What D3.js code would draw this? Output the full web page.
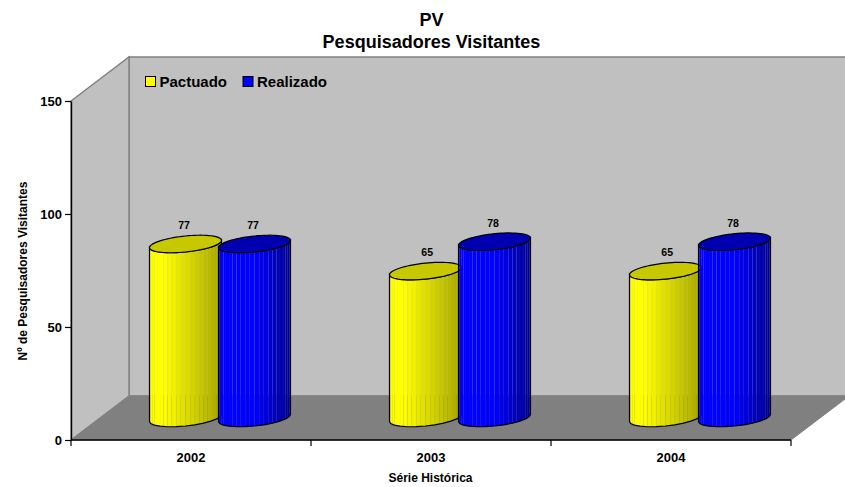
<!DOCTYPE html>
<html>
<head>
<meta charset="utf-8">
<title>PV</title>
<script src="https://cdnjs.cloudflare.com/ajax/libs/d3/7.8.5/d3.min.js"></script>
<style>
    html, body { margin: 0; padding: 0; background: #fff; }
    svg { display: block; }
    text { font-family: "Liberation Sans", Arial, sans-serif; font-weight: bold; fill: #000; }
    .axis path { stroke: #000; stroke-width: 1.4; }
    .axis line { stroke: #000; stroke-width: 1.2; }
    .axis text { font-size: 13px; font-family: "Liberation Sans", Arial, sans-serif; }
</style>
</head>
<body>
<div id="chart"></div>
<script>
var years = ['2002', '2003', '2004'];
var seriesNames = ['Pactuado', 'Realizado'];
var pactuado = [77, 65, 65];
var realizado = [77, 78, 78];
var yTicks = [0, 50, 100, 150];
var titleLines = ['PV', 'Pesquisadores Visitantes'];

(function () {
    'use strict';

    var WIDTH = 845;
    var HEIGHT = 487;
    var LEFT = 71;
    var RIGHT = 791;
    var TOP = 101;
    var BOTTOM = 440;
    var DEPTH_X = 58;
    var DEPTH_Y = 44;
    var RADIUS = 36;
    var RADIUS_Y = 8;
    var SHEAR = 0.1;
    var STRIPS = 24;

    var colors = {
        Pactuado: { bright: '#ffff00', dark: '#a6a600', top: '#c8c800', knee: 0.2 },
        Realizado: { bright: '#0000ff', dark: '#000090', top: '#0000b0', knee: 0.5 }
    };

    var svg = d3.select('#chart').append('svg')
        .attr('width', WIDTH)
        .attr('height', HEIGHT);

    var y = d3.scaleLinear().domain([0, 150]).range([BOTTOM, TOP]);
    var x = d3.scaleBand().domain(years).range([LEFT, RIGHT]);
    var inner = d3.scalePoint().domain(seriesNames)
        .range([DEPTH_X / 2 + x.bandwidth() / 2 - 34.5, DEPTH_X / 2 + x.bandwidth() / 2 + 34.5]);
    var line = d3.line();

    drawWalls();
    drawAxes();
    drawCylinders();
    drawLegend();
    drawTitles();

    function drawWalls() {
        var wall = svg.append('g');
        // back wall runs off the right side of the page like the original
        wall.append('polygon')
            .attr('points', [[LEFT + DEPTH_X, TOP - DEPTH_Y], [RIGHT + DEPTH_X, TOP - DEPTH_Y], [RIGHT + DEPTH_X, BOTTOM - DEPTH_Y], [LEFT + DEPTH_X, BOTTOM - DEPTH_Y]].join(' '))
            .attr('fill', '#c0c0c0')
            .attr('stroke', '#808080')
            .attr('stroke-width', 1.4);
        wall.append('polygon')
            .attr('points', [[LEFT, TOP], [LEFT + DEPTH_X, TOP - DEPTH_Y], [LEFT + DEPTH_X, BOTTOM - DEPTH_Y], [LEFT, BOTTOM]].join(' '))
            .attr('fill', '#c0c0c0')
            .attr('stroke', '#808080')
            .attr('stroke-width', 1.4);
        wall.append('polygon')
            .attr('points', [[LEFT, BOTTOM], [RIGHT, BOTTOM], [RIGHT + DEPTH_X, BOTTOM - DEPTH_Y], [LEFT + DEPTH_X, BOTTOM - DEPTH_Y]].join(' '))
            .attr('fill', '#808080')
            .attr('stroke', '#808080')
            .attr('stroke-width', 1);
    }

    function drawAxes() {
        var yAxis = d3.axisLeft(y).tickValues(yTicks).tickSize(6).tickSizeOuter(0);
        svg.append('g')
            .attr('class', 'axis')
            .attr('transform', 'translate(' + LEFT + ',0)')
            .call(yAxis);

        var xAxis = d3.axisBottom(x).tickSize(0).tickPadding(12.5);
        var gx = svg.append('g')
            .attr('class', 'axis')
            .attr('transform', 'translate(0,' + BOTTOM + ')')
            .call(xAxis);
        gx.select('.domain').attr('d', 'M' + LEFT + ',0H' + RIGHT);

        // ticks sit on the band edges, not on the band centres
        gx.selectAll('line.edge')
            .data(years.concat('end'))
            .enter()
            .append('line')
            .attr('class', 'edge')
            .attr('x1', function (d, i) { return LEFT + i * x.step(); })
            .attr('x2', function (d, i) { return LEFT + i * x.step(); })
            .attr('y1', 0)
            .attr('y2', 6);

        svg.append('text')
            .text('Série Histórica')
            .attr('x', 430.5)
            .attr('y', 481.5)
            .attr('text-anchor', 'middle')
            .style('font-size', '12px');

        svg.append('text')
            .text('Nº de Pesquisadores Visitantes')
            .attr('transform', 'translate(27,271) rotate(-90)')
            .attr('text-anchor', 'middle')
            .style('font-size', '12px');
    }

    function ellipsePoint(cx, cy, t) {
        return [
            cx + RADIUS * Math.cos(t),
            cy + RADIUS_Y * Math.sin(t) - RADIUS * SHEAR * Math.cos(t)
        ];
    }

    function ellipse(cx, cy) {
        return d3.range(0, 73).map(function (i) {
            return ellipsePoint(cx, cy, i * Math.PI / 36);
        });
    }

    function frontArc(cx, cy, from, to) {
        return d3.range(0, 13).map(function (i) {
            return ellipsePoint(cx, cy, from + (to - from) * i / 12);
        });
    }

    function stripColor(style, u) {
        if (u < style.knee) {
            return style.bright;
        }
        return d3.interpolateRgb(style.bright, style.dark)((u - style.knee) / (1 - style.knee));
    }

    function drawCylinder(group, name, year, value) {
        var style = colors[name];
        var cx = x(year) + inner(name);
        var baseY = y(0) - DEPTH_Y / 2;
        var topY = y(value) - DEPTH_Y / 2;
        var g = group.append('g').attr('class', 'cylinder');

        // strips are left unjoined, the seams let the wall and floor show through
        d3.range(STRIPS).forEach(function (i) {
            var a = Math.PI - i * Math.PI / STRIPS;
            var b = Math.PI - (i + 1) * Math.PI / STRIPS;
            var lower = frontArc(cx, baseY, a, b);
            var upper = frontArc(cx, topY, b, a);
            var u = (Math.cos((a + b) / 2) + 1) / 2;
            g.append('path')
                .attr('d', line(lower.concat(upper)) + 'Z')
                .attr('fill', stripColor(style, u));
        });

        var outline = frontArc(cx, baseY, Math.PI, 0).concat(frontArc(cx, topY, 0, Math.PI));
        g.append('path')
            .attr('d', line(outline) + 'Z')
            .attr('fill', 'none')
            .attr('stroke', '#000')
            .attr('stroke-width', 1.2);

        g.append('path')
            .attr('d', line(ellipse(cx, topY)) + 'Z')
            .attr('fill', style.top)
            .attr('stroke', '#000')
            .attr('stroke-width', 1.2);
    }

    function drawCylinders() {
        var marks = svg.append('g');
        var labels = svg.append('g');
        var values = { Pactuado: pactuado, Realizado: realizado };

        years.forEach(function (year, i) {
            seriesNames.forEach(function (name) {
                var value = values[name][i];
                // the shorter cylinders carry their label a bit to the right in the original
                var nudge = value < 70 ? 1.7 : -1.5;
                drawCylinder(marks, name, year, value);
                labels.append('text')
                    .text(value)
                    .attr('x', x(year) + inner(name) + nudge)
                    .attr('y', y(value) - DEPTH_Y / 2 - 15)
                    .attr('text-anchor', 'middle')
                    .style('font-size', '10.5px');
            });
        });
    }

    function drawLegend() {
        var legend = svg.append('g');
        var offsets = [145, 242.5];
        seriesNames.forEach(function (name, i) {
            legend.append('rect')
                .attr('x', offsets[i] + 0.5)
                .attr('y', 76.5)
                .attr('width', 10)
                .attr('height', 10)
                .attr('fill', colors[name].bright)
                .attr('stroke', '#000')
                .attr('stroke-width', 1);
            legend.append('text')
                .text(name)
                .attr('x', offsets[i] + 14.5)
                .attr('y', 87)
                .style('font-size', '15px');
        });
    }

    function drawTitles() {
        svg.selectAll('text.title')
            .data(titleLines)
            .enter()
            .append('text')
            .attr('class', 'title')
            .text(function (d) { return d; })
            .attr('x', 431.5)
            .attr('y', function (d, i) { return 26 + i * 22; })
            .attr('text-anchor', 'middle')
            .style('font-size', '18px');
    }
})();
</script>
</body>
</html>
